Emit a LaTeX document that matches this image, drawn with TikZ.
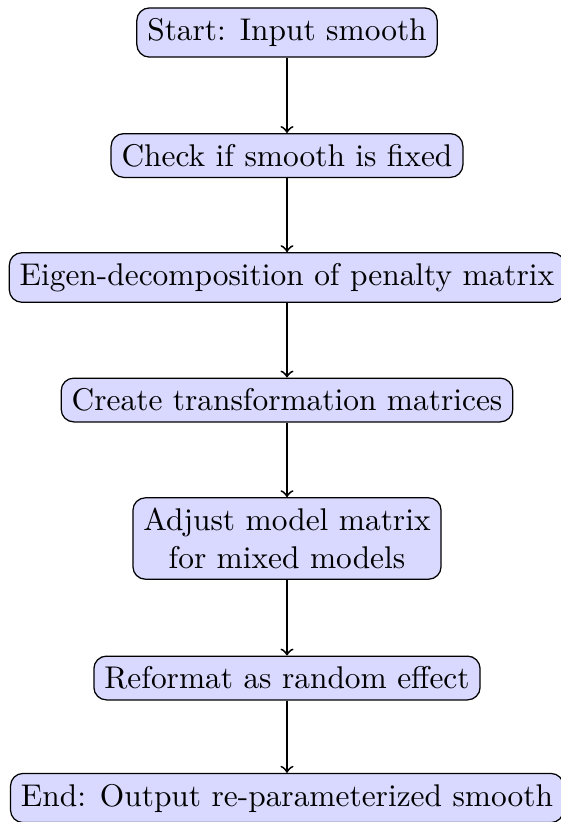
\documentclass[tikz,border=0pt]{standalone}
\usetikzlibrary{positioning}
\begin{document}
\begin{tikzpicture}[x=0.3185pt,y=-0.3185pt,
  stepbox/.style={draw, rounded corners=4pt, fill=blue!15, align=center, inner sep=0.3333em},
  flow/.style={->, semithick}]
\useasboundingbox (0,0) rectangle (561,822);
\node[stepbox] (start)  at (287,32.5)  {Start: Input smooth};
\node[stepbox] (check)  at (287,155.5) {Check if smooth is fixed};
\node[stepbox] (eigen)  at (287,277.5) {Eigen-decomposition of penalty matrix};
\node[stepbox] (create) at (287,400)   {Create transformation matrices};
\node[stepbox] (adjust) at (287,538.5) {Adjust model matrix\\for mixed models};
\node[stepbox] (reform) at (287,678)   {Reformat as random effect};
\node[stepbox] (endn)   at (287,798)   {End: Output re-parameterized smooth};
\draw[flow] (start) -- (check);
\draw[flow] (check) -- (eigen);
\draw[flow] (eigen) -- (create);
\draw[flow] (create) -- (adjust);
\draw[flow] (adjust) -- (reform);
\draw[flow] (reform) -- (endn);
\end{tikzpicture}
\end{document}
